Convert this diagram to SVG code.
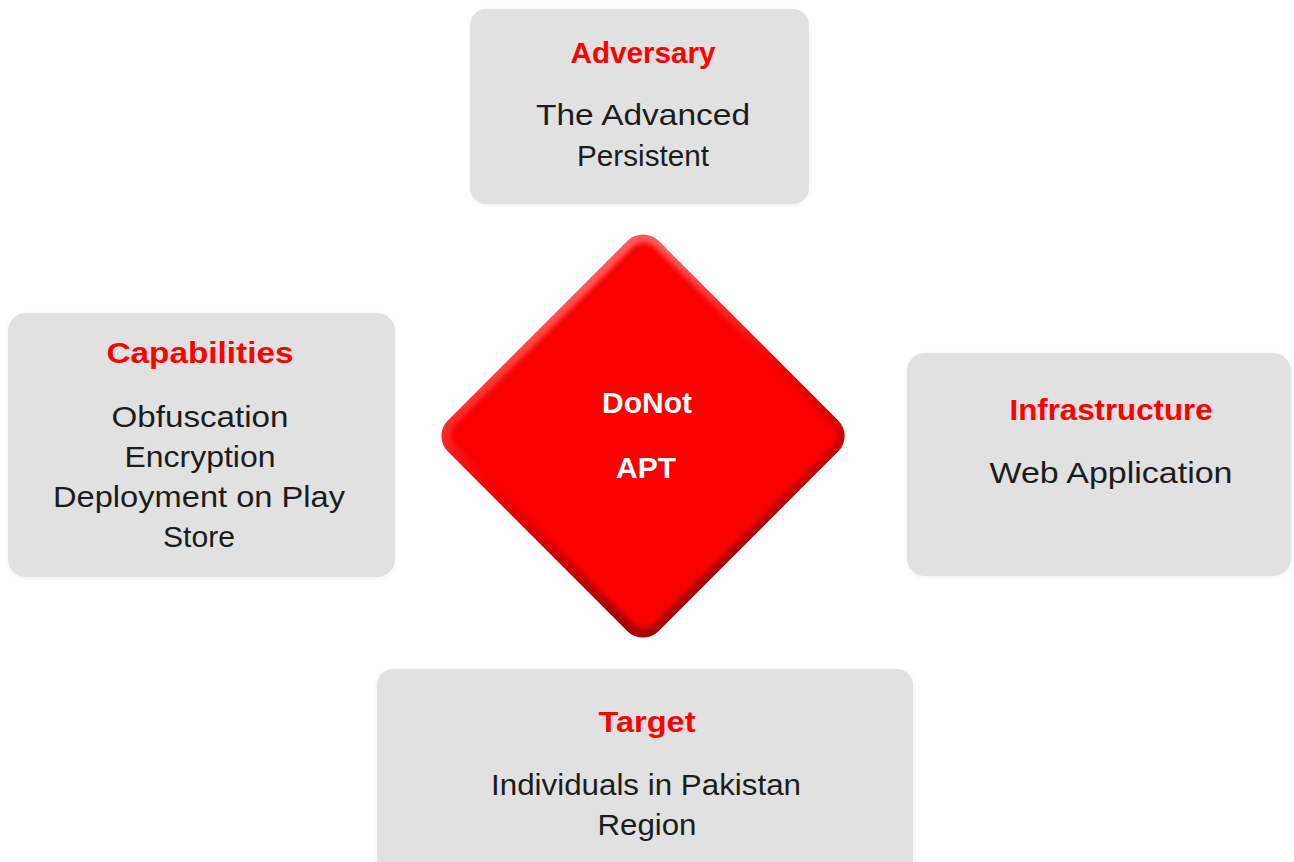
<svg xmlns="http://www.w3.org/2000/svg" width="1294" height="862" viewBox="0 0 1294 862">
  <style>
    .box { fill: #e1e1e1; filter: url(#soft); }
    .title { font-family: "Liberation Sans", Arial, sans-serif; font-weight: bold; font-size: 29px; fill: #ff0000; text-anchor: middle; }
    .body { font-family: "Liberation Sans", Arial, sans-serif; font-size: 29px; fill: #1c1c1c; text-anchor: middle; }
    .core { font-family: "Liberation Sans", Arial, sans-serif; font-weight: bold; font-size: 30px; fill: #ffffff; text-anchor: middle; }
  </style>
  <defs>
    <filter id="soft" x="-5%" y="-5%" width="110%" height="110%">
      <feGaussianBlur in="SourceAlpha" stdDeviation="2"/>
      <feOffset dx="0" dy="1" result="b"/>
      <feFlood flood-color="#000" flood-opacity="0.06"/>
      <feComposite in2="b" operator="in" result="s"/>
      <feMerge><feMergeNode in="s"/><feMergeNode in="SourceGraphic"/></feMerge>
    </filter>
    <filter id="faceBlur" x="-5%" y="-5%" width="110%" height="110%">
      <feGaussianBlur stdDeviation="2.5"/>
    </filter>
    <!-- bevel ring: lit on the upper-left, shaded towards the lower-right -->
    <linearGradient id="bevel" x1="0" y1="0.3" x2="1" y2="0.7">
      <stop offset="0" stop-color="#ff5a5a"/>
      <stop offset="0.45" stop-color="#f40000"/>
      <stop offset="1" stop-color="#a80000"/>
    </linearGradient>
  </defs>

  <rect width="1294" height="862" fill="#ffffff"/>

  <!-- central diamond -->
  <g id="core">
    <g transform="rotate(45 643 436)">
      <rect x="494" y="287" width="298" height="298" rx="22" fill="url(#bevel)"/>
      <rect x="502" y="294" width="282" height="282" rx="16" fill="#fa0000" filter="url(#faceBlur)"/>
    </g>
    <text class="core" x="647" y="413">DoNot</text>
    <text class="core" x="646" y="478">APT</text>
  </g>

  <g id="adversary">
    <rect class="box" x="470" y="9" width="339" height="195" rx="16"/>
    <text class="title" x="643" y="63" textLength="145" lengthAdjust="spacingAndGlyphs">Adversary</text>
    <text class="body" x="643" y="125" textLength="214" lengthAdjust="spacingAndGlyphs">The Advanced</text>
    <text class="body" x="643" y="166" textLength="132" lengthAdjust="spacingAndGlyphs">Persistent</text>
  </g>

  <g id="capabilities">
    <rect class="box" x="8" y="313" width="387" height="264" rx="18"/>
    <text class="title" x="200" y="363" textLength="187" lengthAdjust="spacingAndGlyphs">Capabilities</text>
    <text class="body" x="200" y="427" textLength="177" lengthAdjust="spacingAndGlyphs">Obfuscation</text>
    <text class="body" x="200" y="467" textLength="151" lengthAdjust="spacingAndGlyphs">Encryption</text>
    <text class="body" x="199" y="507" textLength="292" lengthAdjust="spacingAndGlyphs">Deployment on Play</text>
    <text class="body" x="199" y="547" textLength="72" lengthAdjust="spacingAndGlyphs">Store</text>
  </g>

  <g id="infrastructure">
    <rect class="box" x="907" y="353" width="384" height="223" rx="18"/>
    <text class="title" x="1111" y="420" textLength="203" lengthAdjust="spacingAndGlyphs">Infrastructure</text>
    <text class="body" x="1111" y="483" textLength="243" lengthAdjust="spacingAndGlyphs">Web Application</text>
  </g>

  <g id="target">
    <rect class="box" x="377" y="669" width="536" height="210" rx="16"/>
    <text class="title" x="647" y="732" textLength="97" lengthAdjust="spacingAndGlyphs">Target</text>
    <text class="body" x="646" y="795" textLength="310" lengthAdjust="spacingAndGlyphs">Individuals in Pakistan</text>
    <text class="body" x="647" y="835" textLength="99" lengthAdjust="spacingAndGlyphs">Region</text>
  </g>

  <!-- no connectors are drawn between the nodes -->
  <g id="connectors"/>
</svg>
